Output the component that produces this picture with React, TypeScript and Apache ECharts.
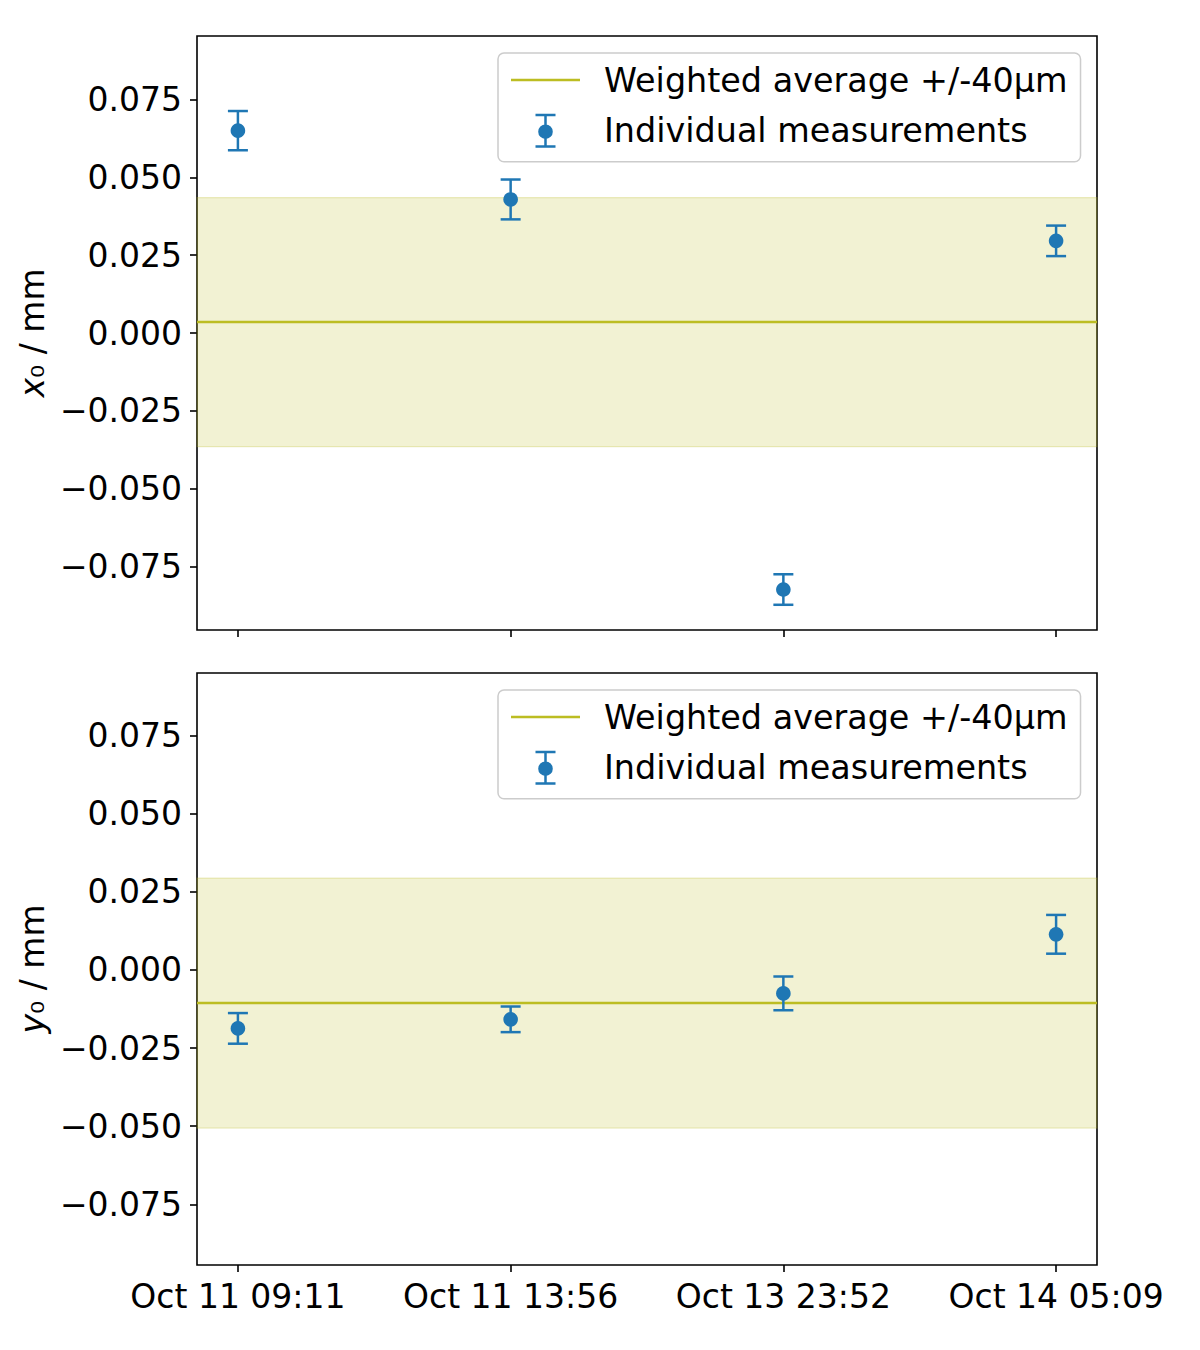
import React, { useEffect, useRef } from "react";
import * as echarts from "echarts";

const timeLabels = ["Oct 11 09:11", "Oct 11 13:56", "Oct 13 23:52", "Oct 14 05:09"];
const xPositions = [0, 1, 2, 3];
const yTicks = [-0.075, -0.05, -0.025, 0, 0.025, 0.05, 0.075];

const x0Values = [0.065, 0.0429, -0.0824, 0.0296];
const x0Errors = [0.0063, 0.0064, 0.0049, 0.0049];
const x0Average = 0.0035;

const y0Values = [-0.0187, -0.0158, -0.0075, 0.0114];
const y0Errors = [0.0049, 0.0041, 0.0054, 0.0062];
const y0Average = -0.0106;

const bandHalfWidth = 0.04;

const AVG_NAME = "Weighted average +/-40μm";
const IND_NAME = "Individual measurements";

const BLUE = "#1f77b4";
const OLIVE = "#bcbd22";
const FONT = "DejaVu Sans";

const fmtY = (v: number) => {
  const s = Math.abs(v).toFixed(3);
  return (v < -1e-9 ? "\u2212" : "") + s;
};

const errIcon =
  "path://M0,0h20v2.5h-20z M8.75,0h2.5v34h-2.5z M0,31.5h20v2.5h-20z M2.7,18a7.3,7.3 0 1,1 14.6,0a7.3,7.3 0 1,1 -14.6,0z";
const lineIcon = "path://M0,0h69v2.6h-69z";

function renderErr(params: any, api: any) {
  const x = api.value(0);
  const y = api.value(1);
  const e = api.value(2);
  const c = api.coord([x, y]);
  const hi = api.coord([x, y + e]);
  const lo = api.coord([x, y - e]);
  const hw = 10;
  const st = { stroke: BLUE, lineWidth: 2.5 };
  return {
    type: "group",
    children: [
      { type: "line", shape: { x1: c[0], y1: hi[1], x2: c[0], y2: lo[1] }, style: st },
      { type: "line", shape: { x1: c[0] - hw, y1: hi[1], x2: c[0] + hw, y2: hi[1] }, style: st },
      { type: "line", shape: { x1: c[0] - hw, y1: lo[1], x2: c[0] + hw, y2: lo[1] }, style: st },
      { type: "circle", shape: { cx: c[0], cy: c[1], r: 7.3 }, style: { fill: BLUE } },
    ],
  };
}

export default function App() {
  const ref = useRef<HTMLDivElement>(null);
  useEffect(() => {
    document.body.style.margin = "0";
    if (!ref.current) return;
    const chart = echarts.init(ref.current, undefined, { renderer: "svg" });

    const axisStyle = { color: "#000", width: 1.6 };
    const mkX = (idx: number, showLabels: boolean) => ({
      type: "value",
      gridIndex: idx,
      min: -0.15,
      max: 3.15,
      splitLine: { show: false },
      axisLine: { show: false, onZero: false },
      axisTick: { show: true, length: 7, lineStyle: axisStyle, customValues: xPositions },
      axisLabel: {
        show: showLabels,
        customValues: xPositions,
        formatter: (v: number) => timeLabels[Math.round(v)] ?? "",
        fontSize: 33,
        fontFamily: FONT,
        color: "#000",
        margin: 15,
      },
    });
    const mkY = (idx: number, min: number, max: number, sym: string) => ({
      type: "value",
      gridIndex: idx,
      min,
      max,
      splitLine: { show: false },
      axisLine: { show: false, onZero: false },
      axisTick: { show: true, length: 7, lineStyle: axisStyle, customValues: yTicks },
      axisLabel: {
        customValues: yTicks,
        formatter: fmtY,
        fontSize: 33,
        fontFamily: FONT,
        color: "#000",
        margin: 15,
      },
      name: `{it|${sym}}{sub|\u2080} / mm`,
      nameLocation: "middle",
      nameRotate: 90,
      nameGap: 145,
      nameTextStyle: {
        fontSize: 33,
        fontFamily: FONT,
        color: "#000",
        rich: {
          it: { fontSize: 33, fontFamily: FONT, fontStyle: "italic", color: "#000" },
          sub: { fontSize: 33, fontFamily: FONT, color: "#000" },
        },
      },
    });

    const mkLegend = (top: number) => ({
      left: 498,
      top,
      orient: "vertical",
      itemWidth: 69,
      itemHeight: 34,
      itemGap: 16.7,
      padding: [10, 13, 14, 13],
      backgroundColor: "rgba(255,255,255,0.8)",
      borderColor: "#cccccc",
      borderWidth: 1.5,
      borderRadius: 6,
      selectedMode: false,
      itemStyle: { borderWidth: 0 },
      textStyle: { fontSize: 33.4, fontFamily: FONT, color: "#000", padding: [0, 0, 0, 19], lineHeight: 34 },
      data: [
        { name: AVG_NAME, icon: lineIcon, itemStyle: { color: OLIVE } },
        { name: IND_NAME, icon: errIcon, itemStyle: { color: BLUE } },
      ],
    });

    const mkSeries = (idx: number, avg: number, vals: number[], errs: number[]) => [
      {
        name: AVG_NAME,
        type: "line",
        xAxisIndex: idx,
        yAxisIndex: idx,
        data: [
          [-0.15, avg],
          [3.15, avg],
        ],
        showSymbol: false,
        symbol: "none",
        color: OLIVE,
        lineStyle: { color: OLIVE, width: 2.5 },
        itemStyle: { color: OLIVE },
        z: 2,
        silent: true,
        markArea: {
          silent: true,
          itemStyle: { color: "rgba(188,189,34,0.2)", borderColor: "rgba(188,189,34,0.25)", borderWidth: 1.2 },
          data: [[{ yAxis: avg - bandHalfWidth }, { yAxis: avg + bandHalfWidth }]],
        },
      },
      {
        name: IND_NAME,
        type: "custom",
        xAxisIndex: idx,
        yAxisIndex: idx,
        color: BLUE,
        itemStyle: { color: BLUE },
        renderItem: renderErr,
        encode: { x: 0, y: 1 },
        data: xPositions.map((x, i) => [x, vals[i], errs[i]]),
        z: 3,
        silent: true,
      },
    ];

    chart.setOption({
      animation: false,
      backgroundColor: "#fff",
      grid: [
        { left: 197, top: 36, width: 900, height: 594, show: true, borderColor: "#000", borderWidth: 1.6, backgroundColor: "transparent" },
        { left: 197, top: 673, width: 900, height: 592, show: true, borderColor: "#000", borderWidth: 1.6, backgroundColor: "transparent" },
      ],
      xAxis: [mkX(0, false), mkX(1, true)],
      yAxis: [mkY(0, -0.0954, 0.0954, "x"), mkY(1, -0.0944, 0.095, "y")],
      legend: [mkLegend(53), mkLegend(690)],
      series: [...mkSeries(0, x0Average, x0Values, x0Errors), ...mkSeries(1, y0Average, y0Values, y0Errors)],
    });
    return () => chart.dispose();
  }, []);
  return <div ref={ref} style={{ width: 1200, height: 1350 }} />;
}
